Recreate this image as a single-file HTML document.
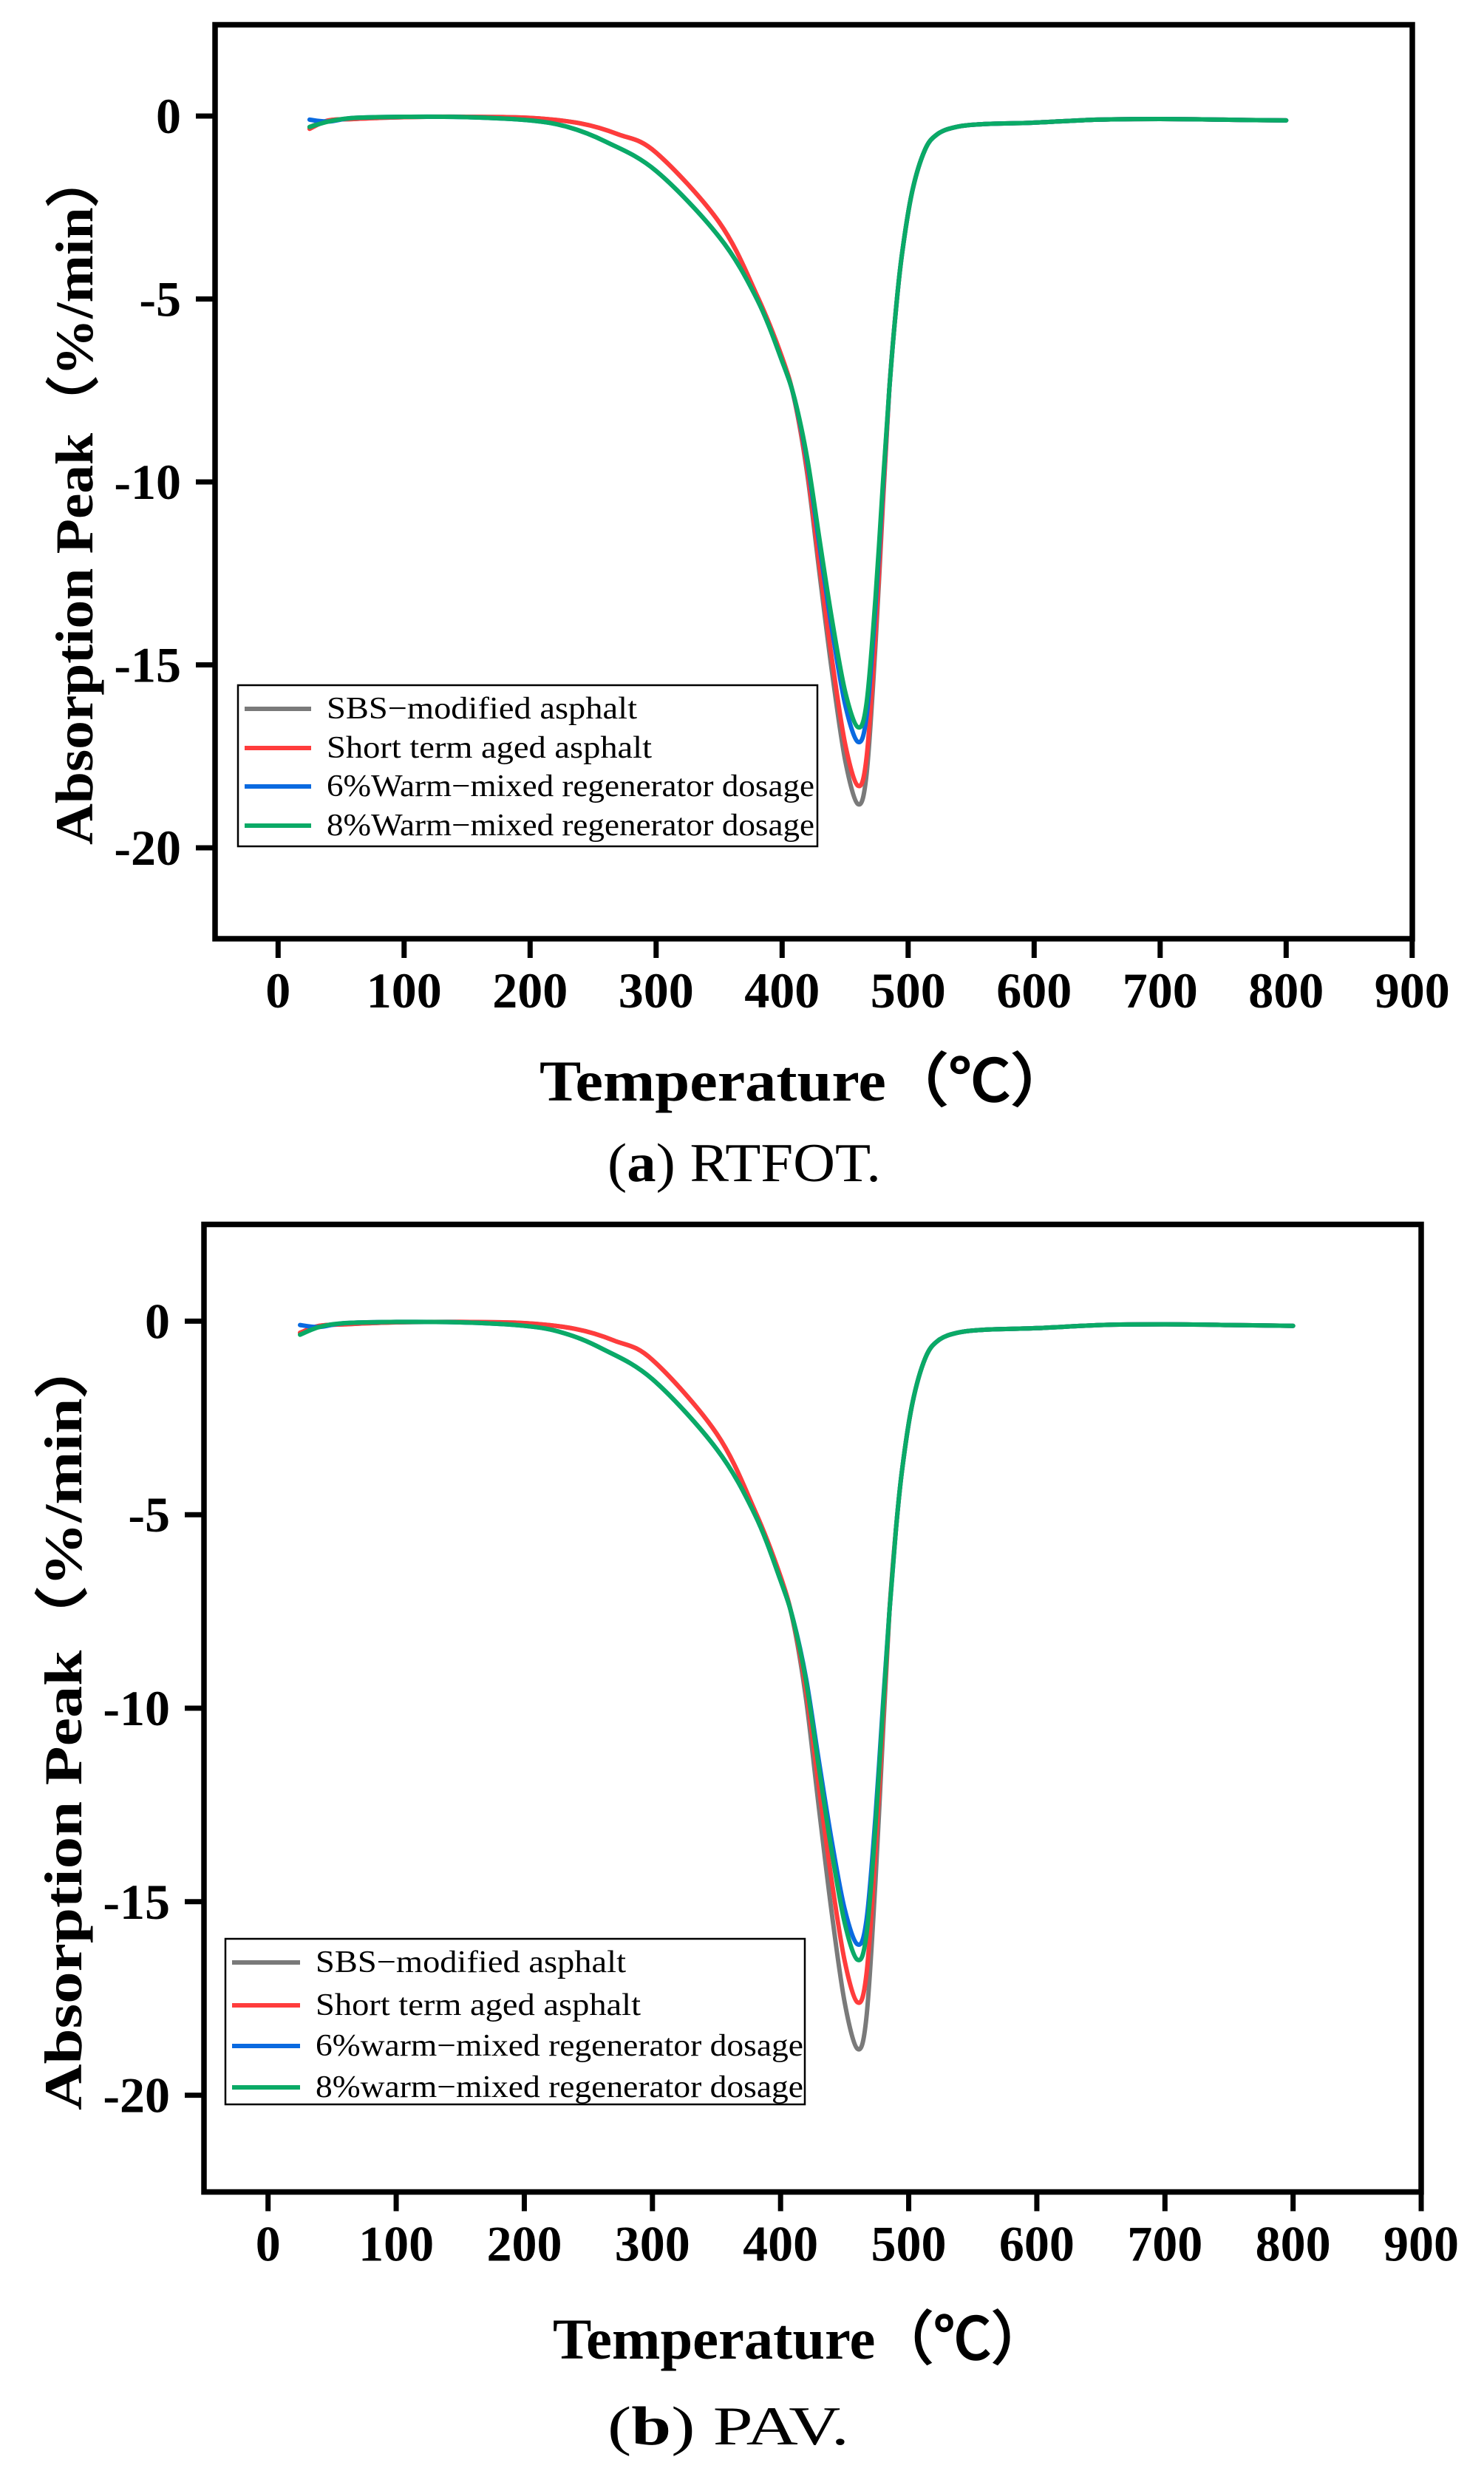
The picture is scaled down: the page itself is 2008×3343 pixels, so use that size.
<!DOCTYPE html>
<html><head><meta charset="utf-8"><style>
html,body{margin:0;padding:0;background:#fff}
svg{display:block}
text{font-family:"Liberation Serif","Times New Roman",serif}
</style></head><body>
<svg id="s" width="2008" height="3343" viewBox="0 0 2008 3343" xmlns="http://www.w3.org/2000/svg"></svg>
<script>
const S=document.getElementById('s');
let out='';
function panel(P){
  const X=t=>P.x0+t*P.kx, Y=v=>P.y0-v*P.ky;
  let g='';
  const cols=['#7a7a7a','#ff3c3c','#0a6ae0','#0aaa66'];
  P.series.forEach((pts,i)=>{
    const p=pts.map(a=>[X(a[0]),Y(a[1])]);
    let d='M'+p[0][0].toFixed(1)+' '+p[0][1].toFixed(1);
    for(let j=0;j<p.length-1;j++){
      const p0=p[j-1]||p[j],p1=p[j],p2=p[j+1],p3=p[j+2]||p[j+1];
      const c1=[p1[0]+(p2[0]-p0[0])/6,p1[1]+(p2[1]-p0[1])/6];
      const c2=[p2[0]-(p3[0]-p1[0])/6,p2[1]-(p3[1]-p1[1])/6];
      d+=` C${c1[0].toFixed(1)} ${c1[1].toFixed(1)} ${c2[0].toFixed(1)} ${c2[1].toFixed(1)} ${p2[0].toFixed(1)} ${p2[1].toFixed(1)}`;
    }
    g+=`<path d="${d}" fill="none" stroke="${cols[i]}" stroke-width="6" stroke-linejoin="round" stroke-linecap="round"/>`;
  });
  g+=`<rect x="${P.L}" y="${P.T}" width="${P.R-P.L}" height="${P.B-P.T}" fill="none" stroke="#000" stroke-width="7.5"/>`;
  for(let t=0;t<=900;t+=100){
    const x=X(t);
    g+=`<line x1="${x}" y1="${P.B}" x2="${x}" y2="${P.B+26}" stroke="#000" stroke-width="7"/>`;
    g+=`<text x="${x}" y="${P.B+93}" font-size="68" font-weight="bold" text-anchor="middle">${t}</text>`;
  }
  for(let v=0;v>=-20;v-=5){
    const y=Y(v);
    g+=`<line x1="${P.L}" y1="${y}" x2="${P.L-26}" y2="${y}" stroke="#000" stroke-width="7"/>`;
    g+=`<text x="${P.L-46}" y="${y+23}" font-size="68" font-weight="bold" text-anchor="end">${v}</text>`;
  }
  const lg=P.leg;
  g+=`<rect x="${lg.x}" y="${lg.y}" width="${lg.w}" height="${lg.h}" fill="#fff" stroke="#000" stroke-width="2.5"/>`;
  lg.rows.forEach((ry,i)=>{
    g+=`<line x1="${lg.lx1}" y1="${ry}" x2="${lg.lx2}" y2="${ry}" stroke="${cols[i]}" stroke-width="6"/>`;
    g+=`<text x="${lg.tx}" y="${ry+13}" font-size="42" textLength="${lg.tw[i]}" lengthAdjust="spacingAndGlyphs">${lg.names[i]}</text>`;
  });
  g+=`<text transform="translate(${P.ylx},${P.ylc}) rotate(-90)" font-size="72" font-weight="bold" text-anchor="middle" textLength="${P.ylw}" lengthAdjust="spacingAndGlyphs">Absorption Peak（%/min）</text>`;
  g+=`<text x="${P.xlx}" y="${P.xly}" font-size="78" font-weight="bold" textLength="${P.xlw}" lengthAdjust="spacingAndGlyphs">Temperature（℃）</text>`;
  g+=`<text x="${P.cx}" y="${P.cy}" font-size="74" textLength="${P.cw}" lengthAdjust="spacingAndGlyphs">(<tspan font-weight="bold">${P.cl}</tspan>) ${P.ct}</text>`;
  return g;
}
function mk(min,early,start){
  const base=early?
   [[25,start],[40,-0.15],[60,-0.05],[100,-0.02],[150,-0.03],[200,-0.12],[230,-0.3],[260,-0.7],[300,-1.5],[350,-3.3],[380,-5.0],[400,-6.7]]:
   [[25,start],[40,-0.12],[60,-0.08],[100,-0.03],[150,-0.02],[200,-0.05],[240,-0.2],[270,-0.5],[300,-1.0],[350,-2.9],[380,-4.9],[400,-6.6]];
  const deep=[[410,-7.8],[420,-9.8],[430,-12.6],[440,-15.3],[450,-17.6],[460,-18.8],[467,-18.0],[474,-14.5],[480,-10.6],[485,-7.5]];
  const f=(min+7.5)/(-18.8+7.5);
  const d2=deep.map(a=>[a[0],a[1]<-7.5? -7.5+(a[1]+7.5)*f : a[1]]);
  return base.concat(d2,[[490,-5.4],[495,-3.8],[503,-2.1],[513,-0.95],[523,-0.5],[538,-0.3],[560,-0.22],[600,-0.18],[650,-0.1],[700,-0.08],[750,-0.1],[800,-0.12]]);
}
const legA={x:322,y:927,w:784,h:218,lx1:331,lx2:421,tx:442,rows:[959,1012,1064,1117],
 tw:[420,440,660,660],names:['SBS−modified asphalt','Short term aged asphalt','6%Warm−mixed regenerator dosage','8%Warm−mixed regenerator dosage']};
const legB={x:305,y:2623,w:784,h:224,lx1:314,lx2:406,tx:427,rows:[2655,2713,2768,2824],
 tw:[420,440,660,660],names:['SBS−modified asphalt','Short term aged asphalt','6%warm−mixed regenerator dosage','8%warm−mixed regenerator dosage']};
out+=panel({L:291,R:1911,T:33.5,B:1270,x0:376.3,kx:1.705,y0:157,ky:49.5,
 series:[mk(-18.8,false,-0.3),mk(-18.3,false,-0.35),mk(-17.1,true,-0.1),mk(-16.7,true,-0.3)],
 leg:legA,ylx:125,ylc:673,ylw:940,xlx:730,xly:1489,xlw:722,cx:822,cy:1598,cw:370,cl:'a',ct:'RTFOT.'});
out+=panel({L:276,R:1923,T:1656.5,B:2965.5,x0:362.7,kx:1.7337,y0:1787.4,ky:52.36,
 series:[mk(-18.8,false,-0.3),mk(-17.6,false,-0.3),mk(-16.1,true,-0.1),mk(-16.5,true,-0.35)],
 leg:legB,ylx:110,ylc:2330,ylw:1050,xlx:748,xly:3191,xlw:672,cx:822,cy:3307,cw:327,cl:'b',ct:'PAV.'});
S.innerHTML=out;
</script>
</body></html>
